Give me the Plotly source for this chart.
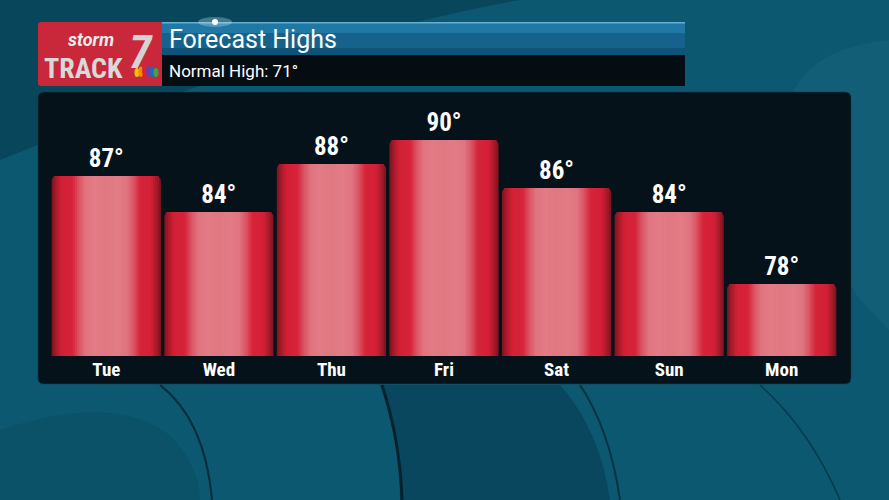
import plotly.graph_objects as go

# forecast data
days = ["Tue", "Wed", "Thu", "Fri", "Sat", "Sun", "Mon"]
highs = [87, 84, 88, 90, 86, 84, 78]
normal_high = 71

title = "Forecast Highs"
subtitle = f"Normal High: {normal_high}°"

COND = "Roboto Condensed, Liberation Sans Narrow, DejaVu Sans Condensed, Roboto, sans-serif"

W, H = 889, 500
ML, MR, MT, MB = 50, 51, 92, 144

# horizontal colour profile of a bar, from edge (0) to centre (0.5)
grad_stops = [
    (0.00, (120, 20, 32)),
    (0.04, (168, 26, 42)),
    (0.09, (210, 32, 54)),
    (0.19, (214, 36, 58)),
    (0.25, (218, 84, 100)),
    (0.31, (224, 116, 127)),
    (0.40, (226, 124, 134)),
    (0.50, (224, 120, 130)),
]


def grad(f):
    for (f0, c0), (f1, c1) in zip(grad_stops, grad_stops[1:]):
        if f <= f1:
            t = (f - f0) / (f1 - f0)
            return "rgb(%d,%d,%d)" % tuple(round(a + (b - a) * t) for a, b in zip(c0, c1))
    return "rgb(%d,%d,%d)" % grad_stops[-1][1]


# figure pixels -> paper coords (paper = plot area)
def pxx(v):
    return (v - ML) / (W - ML - MR)


def pxy(v):
    return (H - MB - v) / (H - MT - MB)


def px_path(p):
    out, isx = [], True
    for t in p.split():
        try:
            v = float(t)
        except ValueError:
            out.append(t)
            isx = True
            continue
        out.append(f"{pxx(v):.5f}" if isx else f"{pxy(v):.5f}")
        isx = not isx
    return " ".join(out)


fig = go.Figure()

# the bars: stacked narrower layers fake the glossy horizontal gradient
full_w = 0.97
n_layers = 28
for k in range(n_layers):
    f = 0.5 * k / n_layers
    w = full_w * (1 - 2 * f)
    first = k == 0
    fig.add_trace(go.Bar(
        x=days, y=highs, width=w,
        marker=dict(color=grad(f + 0.25 / n_layers), line=dict(width=0),
                    cornerradius=5 if first else 0),
        text=[f"{v}°" for v in highs] if first else None,
        textposition="outside" if first else "none",
        textfont=dict(family=COND, size=25, color="white", weight="bold"),
        hoverinfo="skip" if not first else "x+y",
        showlegend=False,
    ))

shapes = [
    # background swirls
    dict(type="path", path="M 0 0 L 520 0 Q 300 40 0 160 Z", fillcolor="rgba(4,38,52,0.35)", line_width=0),
    dict(type="path", path="M 889 40 Q 700 60 860 300 L 889 330 Z", fillcolor="rgba(30,110,135,0.25)", line_width=0),
    dict(type="path", path="M 0 430 Q 120 390 175 440 Q 200 470 200 500 L 0 500 Z",
         fillcolor="rgba(10,75,95,0.5)", line_width=0),
    dict(type="path", path="M 400 500 Q 400 440 380 385 L 560 385 Q 600 430 610 500 Z",
         fillcolor="rgba(4,40,56,0.35)", line_width=0),
    dict(type="path", path="M 160 385 Q 205 420 212 500", line=dict(color="rgba(3,25,35,0.7)", width=2)),
    dict(type="path", path="M 382 385 Q 400 440 402 500", line=dict(color="rgba(3,25,35,0.8)", width=3)),
    dict(type="path", path="M 580 385 Q 610 430 620 500", line=dict(color="rgba(3,25,35,0.6)", width=2)),
    dict(type="path", path="M 760 385 Q 810 430 840 500", line=dict(color="rgba(3,25,35,0.5)", width=1.5)),
    # chart panel
    dict(type="path",
         path="M 38 98 Q 38 92 44 92 L 845 92 Q 851 92 851 98 L 851 378 Q 851 384 845 384 L 44 384 Q 38 384 38 378 Z",
         fillcolor="#06121a", line=dict(color="rgba(20,60,75,0.6)", width=1)),
    # header: logo box, title bar, subtitle bar
    dict(type="path", path="M 38 25 Q 38 22 41 22 L 162 22 L 162 86 L 41 86 Q 38 86 38 83 Z",
         fillcolor="#c8283a", line_width=0),
    dict(type="rect", x0=162, x1=685, y0=22, y1=55, fillcolor="#15628c", line_width=0),
    dict(type="rect", x0=162, x1=685, y0=22, y1=33, fillcolor="#2078a5", line_width=0),
    dict(type="rect", x0=162, x1=685, y0=48, y1=55, fillcolor="#0f5378", line_width=0),
    dict(type="rect", x0=162, x1=685, y0=55, y1=86, fillcolor="#050d12", line_width=0),
    dict(type="rect", x0=162, x1=685, y0=22, y1=23.5, fillcolor="rgba(150,210,240,0.6)", line_width=0),
    dict(type="circle", x0=198, x1=232, y0=17, y1=27, fillcolor="rgba(210,240,255,0.3)", line_width=0),
    dict(type="circle", x0=212, x1=218, y0=19, y1=25, fillcolor="white", line_width=0),
]
# little peacock in the logo
peacock = ["#f5c400", "#f08c00", "#e0202a", "#7a3c98", "#1a6cc0", "#3aa64a"]
for i, c in enumerate(peacock):
    cx = 137 + i * 3.8
    shapes.append(dict(type="circle", x0=cx - 2.5, x1=cx + 2.5, y0=64 + abs(i - 2.5) * 1.6, y1=77,
                       fillcolor=c, line_width=0))

final_shapes = []
for s in shapes:
    s = dict(s, xref="paper", yref="paper", layer="below")
    if s["type"] == "path":
        s["path"] = px_path(s["path"])
    else:
        s["x0"], s["x1"] = pxx(s["x0"]), pxx(s["x1"])
        s["y0"], s["y1"] = pxy(s["y1"]), pxy(s["y0"])
    final_shapes.append(s)


def note(x, y, text, size, color="white", family="Roboto, sans-serif", anchor="left", weight="normal"):
    return dict(x=pxx(x), y=pxy(y), xref="paper", yref="paper", text=text, xanchor=anchor,
                yanchor="middle", showarrow=False, align="center",
                font=dict(family=family, size=size, color=color, weight=weight))


annotations = [
    note(167, 39, title, 25),
    note(167, 71, subtitle, 17),
    note(91, 39, "<i>storm</i>", 18, "#ececec", anchor="center", weight="bold"),
    note(83, 68, "TRACK", 28, "#d9d9d9", COND, "center", "bold"),
    note(141, 52, "<i>7</i>", 46, "#d4d4d4", COND, "center", "bold"),
]

fig.update_layout(
    width=W, height=H,
    barmode="overlay",
    paper_bgcolor="#0c5871",
    plot_bgcolor="rgba(0,0,0,0)",
    margin=dict(l=ML, r=MR, t=MT, b=MB),
    xaxis=dict(showgrid=False, zeroline=False, showline=False, ticks="",
               tickfont=dict(family=COND, size=19, color="white", weight="bold")),
    yaxis=dict(range=[72, 94], visible=False, showgrid=False),
    shapes=final_shapes,
    annotations=annotations,
    font=dict(family="Roboto, sans-serif", color="white"),
)

fig.write_html("out.html", config={"displayModeBar": False},
               post_script="document.body.style.margin='0';")
